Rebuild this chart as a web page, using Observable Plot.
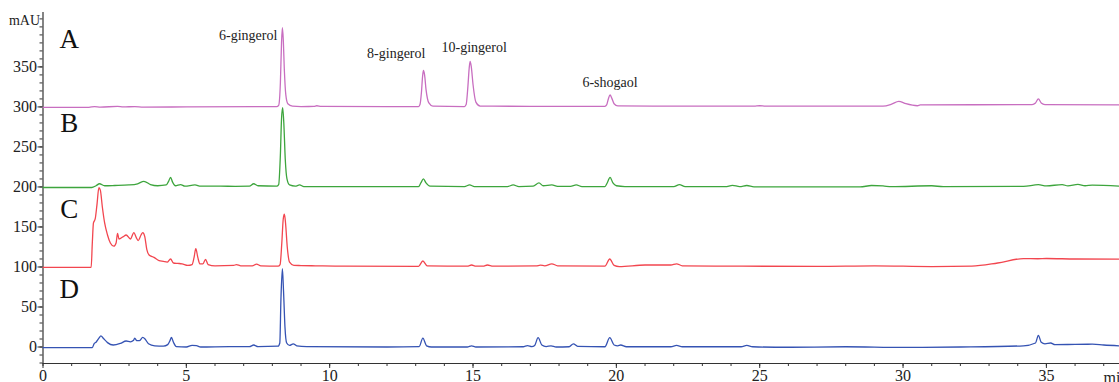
<!DOCTYPE html>
<html>
<head>
<meta charset="utf-8">
<script src="https://cdn.jsdelivr.net/npm/d3@7"></script>
<script src="https://cdn.jsdelivr.net/npm/@observablehq/plot@0.6"></script>
<style>
  html, body { margin: 0; padding: 0; background: #fff; }
  svg { display: block; }
  svg text { font-family: "Liberation Serif", "Times New Roman", serif; }
</style>
</head>
<body>
<div id="chart"></div>
<script>
// ---- data (retention time in min, absorbance in mAU) ----
const traceNames = ["A", "B", "C", "D"];
const baselines = [300, 200, 100, 0];
const traceColors = ["#c86ec0", "#3da53d", "#f2464f", "#3553b3"];

const traceA = [[0,299.5],[1.6,299.5],[1.8,300.5],[2.0,299.8],[2.6,300.6],[2.8,300],[3.2,300.5],[3.5,299.8],[5,300],[7.5,300.3],[8.15,300.3],[8.22,302],[8.28,330],[8.32,380],[8.35,399],[8.38,385],[8.42,345],[8.47,315],[8.54,304],[8.7,301],[9.0,300.5],[9.45,300.6],[9.55,301.5],[9.7,300.6],[12,300.5],[13.1,300.5],[13.15,303],[13.2,318],[13.24,338],[13.27,345.5],[13.31,340],[13.36,322],[13.46,305],[13.6,301],[14.7,300.5],[14.76,303],[14.82,325],[14.87,350],[14.9,357],[14.94,350],[15.0,328],[15.1,306],[15.25,301],[17,300.8],[19.6,300.8],[19.66,302.5],[19.72,310],[19.78,315],[19.84,311],[19.92,304],[20.05,301.3],[22,301],[24.8,301],[25,301.5],[25.2,301],[29.3,301],[29.6,303.5],[29.85,307],[30.1,304],[30.5,301.5],[30.6,302.5],[34.5,303],[34.62,305],[34.72,310],[34.82,305],[34.95,303],[37.55,302.5]];

const traceB = [[0,199.3],[1.7,199.3],[1.85,201.5],[1.97,204],[2.15,201.5],[2.5,201.8],[3.0,202.5],[3.3,204],[3.52,207],[3.75,203],[4.0,201.5],[4.3,202.5],[4.38,207],[4.45,212],[4.52,206],[4.62,201.5],[4.8,203],[4.95,201],[5.3,202.5],[5.5,201],[6.2,201],[6.7,200.8],[7.2,201],[7.35,204],[7.5,201.5],[8.15,201],[8.22,203],[8.28,240],[8.32,285],[8.36,299],[8.40,280],[8.45,235],[8.51,210],[8.6,202.5],[8.8,201],[8.95,202.5],[9.1,200.5],[11,200.3],[13.1,200.3],[13.18,205],[13.27,210],[13.36,205],[13.5,201],[14.7,200.5],[14.88,202.5],[15.05,200.5],[16.2,200.5],[16.4,202.5],[16.6,200.5],[17.1,201],[17.3,205],[17.45,201.5],[17.75,202.5],[17.95,200.8],[18.4,200.8],[18.6,202.5],[18.8,200.5],[19.6,200.5],[19.68,205],[19.78,212],[19.88,205],[20.0,201.5],[20.3,200.5],[22.0,200.3],[22.2,203],[22.4,200.5],[23.8,200.3],[24.05,202],[24.3,200.5],[24.55,201.8],[24.8,200],[28.5,200],[28.9,201.8],[29.3,201.3],[29.6,200.3],[31.0,201.5],[31.4,200.3],[34.2,200.8],[34.72,202.8],[35.0,201.3],[35.55,203],[35.75,201.3],[36.1,203.2],[36.35,201.5],[36.6,202.3],[37.55,201]];

const traceC = [[0,99.5],[1.68,99.5],[1.72,130],[1.76,155],[1.82,160],[1.88,177],[1.95,199],[2.0,196],[2.07,175],[2.15,155],[2.25,140],[2.35,130],[2.47,126],[2.55,130],[2.6,142],[2.65,135],[2.8,138],[2.9,140],[3.05,135],[3.17,143],[3.25,137],[3.32,133],[3.42,140],[3.48,143],[3.55,138],[3.62,122],[3.7,115],[3.87,112],[4.05,108],[4.2,107],[4.33,106],[4.45,110],[4.55,105],[4.7,104.5],[4.85,104],[5.05,102],[5.2,103],[5.27,112],[5.33,123],[5.4,112],[5.47,104],[5.58,104],[5.67,109.5],[5.76,103],[6.0,101.5],[6.65,102],[6.75,103],[6.9,101.5],[7.3,101.5],[7.45,103.5],[7.6,101.5],[8.2,101],[8.27,103],[8.33,130],[8.38,160],[8.42,166],[8.46,155],[8.52,125],[8.6,106],[8.75,102],[9.0,101.8],[9.5,101.5],[10.5,101],[13.1,100.8],[13.25,107.5],[13.4,101.5],[14.8,101],[14.95,102.5],[15.1,101],[15.35,101],[15.5,102.5],[15.7,101],[17.2,101.3],[17.35,102.3],[17.5,101.5],[17.75,104],[17.95,101.5],[19.6,101],[19.77,110],[19.92,102],[20.1,100.5],[21.0,102.5],[21.9,102.5],[22.1,104],[22.3,101.5],[24,101],[27,100.8],[29,101.5],[31,100.5],[32.4,101],[33.3,105],[34.2,110.5],[34.7,110.3],[35.0,110.6],[36,110],[37.55,109.8]];

const traceD = [[0,-0.8],[1.72,-0.8],[1.78,4],[1.85,6],[1.95,11],[2.02,14],[2.1,11],[2.25,5.5],[2.45,2.5],[2.7,4.5],[2.9,7.5],[3.05,6.5],[3.15,8],[3.2,11],[3.27,8],[3.36,8],[3.48,12],[3.56,10],[3.68,4],[3.9,1.5],[4.2,1],[4.35,3],[4.43,8],[4.48,12],[4.55,6],[4.65,0.5],[5.0,0],[5.2,2],[5.35,1.8],[5.5,0],[6.5,0.5],[7.2,0.5],[7.35,2.5],[7.5,0.5],[8.2,1],[8.26,5],[8.3,60],[8.35,98],[8.39,70],[8.44,25],[8.5,5],[8.6,2],[8.73,4],[8.85,1.5],[9.2,0.5],[12,0],[13.12,0.5],[13.25,11],[13.38,1.5],[13.55,0],[14.8,0],[14.95,1.5],[15.1,0],[16.75,0.3],[16.9,1.8],[17.05,0.5],[17.15,2],[17.27,11.7],[17.4,2.5],[17.55,0.5],[17.72,1.5],[17.9,0],[18.35,0.3],[18.5,4],[18.65,0.8],[19.6,0.3],[19.77,11.7],[19.92,2.5],[20.05,1.5],[20.15,2.5],[20.35,0.3],[21.9,0.3],[22.1,2],[22.3,0.3],[24.35,0.3],[24.55,2],[24.75,0.3],[26,-0.3],[28,0.3],[30,-0.5],[32,0],[34.2,1.5],[34.62,5],[34.72,14.6],[34.82,6],[34.95,4],[35.15,5],[35.3,3],[36,3.3],[36.6,3.5],[37.0,2.5],[37.55,1.5]];

const peakNames = ["6-gingerol", "8-gingerol", "10-gingerol", "6-shogaol"];
const peakTimes = [8.35, 13.27, 14.9, 19.78];
const peakHeights = [399, 345.5, 357, 315];

const xMajorTicks = [0, 5, 10, 15, 20, 25, 30, 35];
const xMinorTicks = d3.range(0, 38, 1);
const yMajorTicks = [0, 50, 100, 150, 200, 250, 300, 350];
const yMinorTicks = d3.range(-20, 411, 10);
const xDomain = [0, 37.55];
const yDomain = [-20.6, 418];
const xUnit = "min";
const yUnit = "mAU";

// ---- build ----
const traces = [traceA, traceB, traceC, traceD];
const rows = traces.flatMap((tr, i) => tr.map(([t, v]) => ({trace: traceNames[i], t, v})));
const letterOffsets = [84, 80, 72, 72];
const letters = traceNames.map((name, i) => ({name, t: 0.92, v: baselines[i] + letterOffsets[i]}));
const peakAnchor = ["end", "end", "middle", "middle"];
const peakDx = [-5, 2, 4, 0];
const peakDy = [8, -17, -14, -12];

const serif = "Liberation Serif, Times New Roman, serif";

const chart = Plot.plot({
  width: 1119,
  height: 382,
  marginLeft: 42.5,
  marginRight: 0,
  marginTop: 12,
  marginBottom: 19,
  style: {fontFamily: serif, fontSize: "16px", background: "#fff", color: "#222", overflow: "visible"},
  x: {domain: xDomain, label: null},
  y: {domain: yDomain, label: null},
  color: {domain: traceNames, range: traceColors},
  marks: [
    Plot.axisY({ticks: yMinorTicks, tickSize: 3, tickFormat: () => "", stroke: "#333", label: null}),
    Plot.axisY({ticks: yMajorTicks, tickSize: 5, tickPadding: 1, fontSize: 16, stroke: "#333", fill: "#222", label: null}),
    Plot.axisX({ticks: xMinorTicks, tickSize: 3, tickFormat: () => "", stroke: "#333", label: null}),
    Plot.axisX({ticks: xMajorTicks, tickSize: 5, tickPadding: 1, fontSize: 16, stroke: "#333", fill: "#222", label: null}),
    Plot.ruleX([xDomain[0]], {stroke: "#333", strokeWidth: 1.2}),
    Plot.ruleY([yDomain[0]], {stroke: "#333", strokeWidth: 1.2}),
    Plot.text([xUnit], {x: xDomain[1], y: yDomain[0], textAnchor: "start", dx: -16, dy: 14, fontSize: 16, fill: "#222"}),
    Plot.text([yUnit], {x: xDomain[0], y: 400, textAnchor: "end", dx: -3, dy: -6, fontSize: 14, fill: "#222"}),
    Plot.line(rows, {x: "t", y: "v", z: "trace", stroke: "trace", strokeWidth: 1.3, curve: "monotone-x"}),
    Plot.text(letters, {x: "t", y: "v", text: "name", fontSize: 27, fill: "#111"}),
    ...peakNames.map((name, i) => Plot.text([name], {x: peakTimes[i], y: peakHeights[i], textAnchor: peakAnchor[i], dx: peakDx[i], dy: peakDy[i], fontSize: 14, fill: "#222"}))
  ]
});
document.getElementById("chart").appendChild(chart);
</script>
</body>
</html>
